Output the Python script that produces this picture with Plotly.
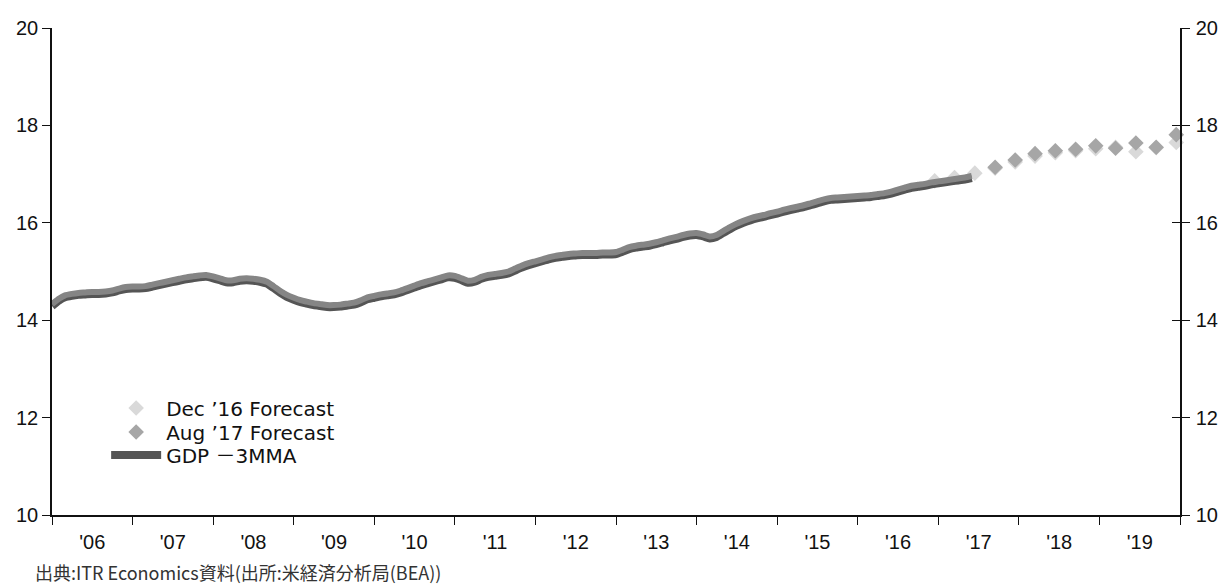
import pandas as pd
import plotly.graph_objects as go

# US real GDP, 3-month moving average (trillions), monthly Jan 2006 - Jun 2017
months = pd.date_range("2006-01-01", "2017-06-01", freq="MS").strftime("%Y-%m-%d").tolist()
gdp_3mma = [
    14.33, 14.44, 14.51, 14.54, 14.56, 14.57, 14.58, 14.58, 14.59, 14.61, 14.65, 14.68,  # 2006
    14.69, 14.69, 14.70, 14.73, 14.76, 14.79, 14.82, 14.85, 14.88, 14.90, 14.92, 14.93,  # 2007
    14.90, 14.86, 14.82, 14.82, 14.85, 14.86, 14.85, 14.83, 14.79, 14.70, 14.60, 14.52,  # 2008
    14.46, 14.41, 14.38, 14.35, 14.33, 14.31, 14.31, 14.32, 14.34, 14.36, 14.41, 14.47,  # 2009
    14.50, 14.53, 14.55, 14.57, 14.61, 14.66, 14.71, 14.76, 14.80, 14.84, 14.88, 14.92,  # 2010
    14.91, 14.86, 14.81, 14.83, 14.89, 14.93, 14.95, 14.97, 15.00, 15.06, 15.12, 15.17,  # 2011
    15.21, 15.25, 15.29, 15.32, 15.34, 15.36, 15.37, 15.38, 15.38, 15.38, 15.39, 15.39,  # 2012
    15.40, 15.45, 15.50, 15.53, 15.55, 15.57, 15.60, 15.64, 15.68, 15.71, 15.75, 15.78,  # 2013
    15.79, 15.76, 15.72, 15.75, 15.83, 15.91, 15.98, 16.04, 16.09, 16.13, 16.16, 16.20,  # 2014
    16.23, 16.27, 16.30, 16.33, 16.36, 16.40, 16.44, 16.48, 16.51, 16.52, 16.53, 16.54,  # 2015
    16.55, 16.56, 16.57, 16.59, 16.61, 16.64, 16.68, 16.72, 16.76, 16.78, 16.80, 16.83,  # 2016
    16.85, 16.87, 16.89, 16.91, 16.93, 16.96,                                            # 2017
]

# Quarterly forecasts
dec16_dates = [
    "2016-12-15", "2017-03-15", "2017-06-15", "2017-09-15", "2017-12-15",
    "2018-03-15", "2018-06-15", "2018-09-15", "2018-12-15",
    "2019-03-15", "2019-06-15", "2019-09-15", "2019-12-15",
]
dec16_forecast = [16.86, 16.93, 17.02, 17.12, 17.25, 17.37, 17.44, 17.48, 17.52, 17.55, 17.46, 17.54, 17.65]

aug17_dates = [
    "2017-09-15", "2017-12-15", "2018-03-15", "2018-06-15", "2018-09-15",
    "2018-12-15", "2019-03-15", "2019-06-15", "2019-09-15", "2019-12-15",
]
aug17_forecast = [17.14, 17.29, 17.42, 17.48, 17.51, 17.58, 17.53, 17.64, 17.55, 17.81]

y_ticks = [10, 12, 14, 16, 18, 20]

AXIS_FONT = dict(family="'Liberation Sans', Arial, sans-serif", size=20, color="#111111")
LEGEND_FONT = dict(family="'DejaVu Sans', 'Noto Sans CJK JP', sans-serif", size=20, color="#111111")
JP_FONT = "'Noto Sans CJK JP', sans-serif"

fig = go.Figure()

fig.add_trace(go.Scatter(
    x=dec16_dates, y=dec16_forecast, mode="markers", name="Dec ’16 Forecast",
    legend="legend", cliponaxis=False,
    marker=dict(symbol="diamond", size=12, color="#d9d9d9", line=dict(width=0)),
))
fig.add_trace(go.Scatter(
    x=aug17_dates, y=aug17_forecast, mode="markers", name="Aug ’17 Forecast",
    legend="legend2", cliponaxis=False,
    marker=dict(symbol="diamond", size=12, color="#a6a6a6", line=dict(width=0)),
))
# dark under-stroke, drawn a touch lower to give the line its shadowed edge
fig.add_trace(go.Scatter(
    x=months, y=gdp_3mma, mode="lines", name="GDP －3MMA", yaxis="y2",
    legend="legend3",
    line=dict(color="#555555", width=8, shape="spline", smoothing=0.6),
))
# lighter core of the GDP line, on the right-hand axis (same 10-20 scale)
fig.add_trace(go.Scatter(
    x=months, y=gdp_3mma, mode="lines", showlegend=False, hoverinfo="skip", yaxis="y4",
    line=dict(color="#858585", width=6, shape="spline", smoothing=0.6),
))


def legend_row(y):
    return dict(
        x=0.048, y=y, xanchor="left", yanchor="middle",
        bgcolor="rgba(0,0,0,0)", borderwidth=0,
        font=LEGEND_FONT, itemwidth=50,
    )


fig.update_layout(
    width=1222, height=584,
    margin=dict(l=52, r=42, t=28, b=69, autoexpand=False),
    paper_bgcolor="white", plot_bgcolor="white",
    showlegend=True,
    legend=legend_row(0.2197),
    legend2=legend_row(0.1704),
    legend3=legend_row(0.1232),
    xaxis=dict(
        type="date", range=["2006-01-01", "2020-01-01"],
        tick0="2006-01-01", dtick="M12", tickformat="'%y",
        ticklabelmode="period", automargin=False,
        ticks="outside", ticklen=8, tickwidth=1.2, tickcolor="#111111",
        showline=True, linecolor="#111111", linewidth=1.5,
        showgrid=False, zeroline=False,
        tickfont=AXIS_FONT,
    ),
    yaxis=dict(
        range=[10, 20], tickvals=y_ticks, automargin=False,
        ticks="outside", ticklen=8, tickwidth=1.2, tickcolor="#111111",
        showline=True, linecolor="#111111", linewidth=1.5, mirror="ticks",
        showgrid=False, zeroline=False, tickfont=AXIS_FONT,
    ),
    yaxis2=dict(
        range=[10.04, 20.04], overlaying="y", visible=False, automargin=False,
    ),
    # inner half of the left tick crosses
    yaxis3=dict(
        range=[10, 20], tickvals=y_ticks, overlaying="y", side="left",
        ticks="inside", ticklen=8, tickwidth=1.2, tickcolor="#111111", automargin=False,
        showticklabels=False, showline=False, showgrid=False, zeroline=False,
    ),
    # right-hand labels and inner half of the right tick crosses
    yaxis4=dict(
        range=[10, 20], tickvals=y_ticks, overlaying="y", side="right",
        ticks="inside", ticklen=8, tickwidth=1.2, tickcolor="#111111",
        ticklabelstandoff=10, automargin=False,
        showticklabels=True, showline=True, linecolor="#111111", linewidth=1.5,
        showgrid=False, zeroline=False, tickfont=AXIS_FONT,
    ),
    annotations=[dict(
        text="出典:ITR Economics資料(出所:米経済分析局(BEA))",
        xref="paper", yref="paper", x=-0.017, y=-0.117,
        xanchor="left", yanchor="middle", showarrow=False,
        font=dict(family=JP_FONT, size=18, color="#333333"),
    )],
)

fig.write_html("out.html")
